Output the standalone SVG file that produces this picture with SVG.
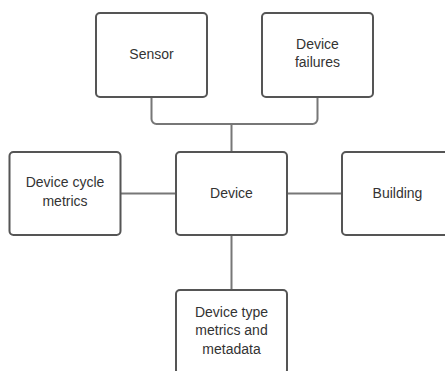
<svg xmlns="http://www.w3.org/2000/svg" width="445" height="371" viewBox="0 0 445 371">
<style>
.box{fill:#fff;stroke:#555;stroke-width:2}
.t{font-family:"Liberation Sans",Arial,sans-serif;font-size:14px;fill:#333;text-anchor:middle}
.c{fill:none;stroke:#777;stroke-width:2}
</style>
<rect width="445" height="371" fill="#fff"/>
<g id="connectors">
<path class="c" d="M151.5 97 V119 a5 5 0 0 0 5 5 H312.5 a5 5 0 0 0 5 -5 V97"/>
<path class="c" d="M231.5 124 V152"/>
<path class="c" d="M121 193.5 H176"/>
<path class="c" d="M287 193.5 H342"/>
<path class="c" d="M231.5 235 V290"/>
</g>
<g id="sensor"><rect class="box" x="96" y="13" width="111" height="84" rx="4"/><text class="t" x="151.5" y="59">Sensor</text></g>
<g id="failures"><rect class="box" x="262" y="13" width="111" height="84" rx="4"/><text class="t" x="317.5" y="48.5">Device</text><text class="t" x="317.5" y="67">failures</text></g>
<g id="cycle"><rect class="box" x="9.5" y="152" width="111" height="83" rx="4"/><text class="t" x="65" y="187">Device cycle</text><text class="t" x="65" y="206">metrics</text></g>
<g id="device"><rect class="box" x="176" y="152" width="111" height="83" rx="4"/><text class="t" x="231.5" y="197.5">Device</text></g>
<g id="building"><rect class="box" x="342" y="152" width="111" height="83" rx="4"/><text class="t" x="397.5" y="197.5">Building</text></g>
<g id="devtype"><rect class="box" x="176" y="290" width="111" height="84" rx="4"/><text class="t" x="231.5" y="316.5">Device type</text><text class="t" x="231.5" y="335">metrics and</text><text class="t" x="231.5" y="353.5">metadata</text></g>
</svg>
